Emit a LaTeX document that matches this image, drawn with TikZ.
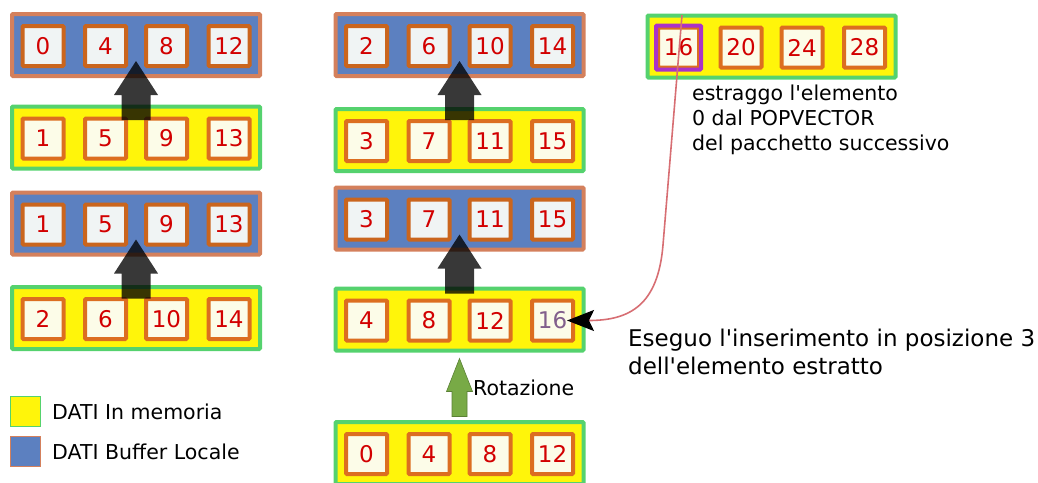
\documentclass[tikz,border=0pt]{standalone}
\usepackage{fontspec}
\setmainfont{DejaVu Sans}
\usetikzlibrary{arrows.meta, positioning, calc}
\usepackage{xcolor}
\definecolor{mgiallo}{RGB}{255,245,10}
\definecolor{mverde}{RGB}{85,210,110}
\definecolor{mblu}{RGB}{92,128,192}
\definecolor{mcorallo}{RGB}{212,128,92}
\definecolor{marancio}{RGB}{220,110,32}
\definecolor{mrosso}{RGB}{210,0,0}
\definecolor{mviola}{RGB}{170,50,200}
\definecolor{mgrigio}{RGB}{130,95,140}
\definecolor{mrosa}{RGB}{215,110,115}
\definecolor{moliva}{RGB}{120,170,70}
\newcommand{\apos}{\textquotesingle}

\tikzset{
  riga/.style={minimum width=248pt, minimum height=62pt, line width=4pt, inner sep=0pt, rounded corners=1pt},
  rigaM/.style={riga, fill=mgiallo, draw=mverde},
  rigaB/.style={riga, fill=mblu, draw=mcorallo},
  cella/.style={minimum width=41pt, minimum height=40pt, line width=4pt, inner sep=0pt,
    rounded corners=1pt, text=mrosso, font=\fontsize{23}{23}\selectfont},
  cellaM/.style={cella, fill={rgb,255:red,252;green,252;blue,232}, draw=marancio},
  cellaB/.style={cella, fill={rgb,255:red,240;green,244;blue,244}, draw=marancio!92!black},
  testo/.style={font=\fontsize{20.5}{25}\selectfont, inner sep=0pt, align=left},
  freccia/.style={fill=black, opacity=0.78},
}

\begin{document}
\begin{tikzpicture}[x=1pt, y=-1pt]
  \clip (0,0) rectangle (1038,482);
  % righe: nome/stile riga/stile celle/centro/valori
  \foreach \nome/\tipo/\tcella/\cx/\cy/\va/\vb/\vc/\vd in {
    sx1/rigaB/cellaB/136/45/0/4/8/12,
    sx2/rigaM/cellaM/136/137.5/1/5/9/13,
    sx3/rigaB/cellaB/136/223.5/1/5/9/13,
    sx4/rigaM/cellaM/136/318/2/6/10/14,
    cx1/rigaB/cellaB/459.5/45/2/6/10/14,
    cx2/rigaM/cellaM/459.5/140/3/7/11/15,
    cx3/rigaB/cellaB/459.5/218.5/3/7/11/15,
    cx4/rigaM/cellaM/459.5/319.5/4/8/12/{\textcolor{mgrigio}{16}},
    cx5/rigaM/cellaM/459.5/453/0/4/8/12,
    dx1/rigaM/cellaM/771.5/46.5/16/20/24/28
  }{
    \node[\tipo] (\nome) at (\cx,\cy) {};
    \foreach \k/\dx/\v in {1/-93/\va, 2/-30.5/\vb, 3/30.5/\vc, 4/93/\vd}
      \node[\tcella] (\nome-\k) at (\cx+\dx,\cy+1) {\v};
  }
  % elemento estratto
  \draw[mviola, line width=4pt, rounded corners=1pt] (dx1-1.north west) rectangle (dx1-1.south east);

  % frecce di copia verso il buffer
  \foreach \sopra in {sx1, sx3, cx1, cx3}{
    \fill[freccia] ($(\sopra.south)+(0,-17)$) -- ++(22,34) -- ++(-7.5,0) -- ++(0,25)
      -- ++(-29,0) -- ++(0,-25) -- ++(-7.5,0) -- cycle;
  }
  % rotazione
  \draw[fill=moliva, draw=moliva!75!black, line width=0.6pt] ($(cx4.south)+(0,6)$)
    -- ++(13,33) -- ++(-5.5,0) -- ++(0,25) -- ++(-15,0) -- ++(0,-25) -- ++(-5.5,0) -- cycle;
  \node[testo, anchor=base west] (rot) at (473,395) {Rotazione};

  % inserimento dell'elemento estratto
  \coordinate (estr) at (682,15);
  \draw[mrosa, line width=1.6pt, shorten >=-8pt,
    -{Stealth[length=27pt, width=21pt, inset=5pt, color=black]}]
    (estr) -- (663,245) .. controls (658,305) and (630,320.5) .. (cx4-4.east);

  \node[testo, anchor=north west] (nota) at (692,85)
    {estraggo l\apos elemento\\0 dal POPVECTOR\\del pacchetto successivo};
  \node[testo, anchor=north west, font=\fontsize{23}{28}\selectfont] (ins) at (628,328.5)
    {Eseguo l\apos inserimento in posizione 3\\dell\apos elemento estratto};

  % legenda
  \node[fill=mgiallo, draw=mverde, line width=1pt, minimum size=30pt, inner sep=0pt] (lgM) at (25.5,411.5) {};
  \node[fill=mblu, draw=mcorallo, line width=1pt, minimum size=30pt, inner sep=0pt] (lgB) at (25.5,451.5) {};
  \node[testo, right=11pt of lgM] {DATI In memoria};
  \node[testo, right=11pt of lgB] {DATI Buffer Locale};
\end{tikzpicture}
\end{document}
